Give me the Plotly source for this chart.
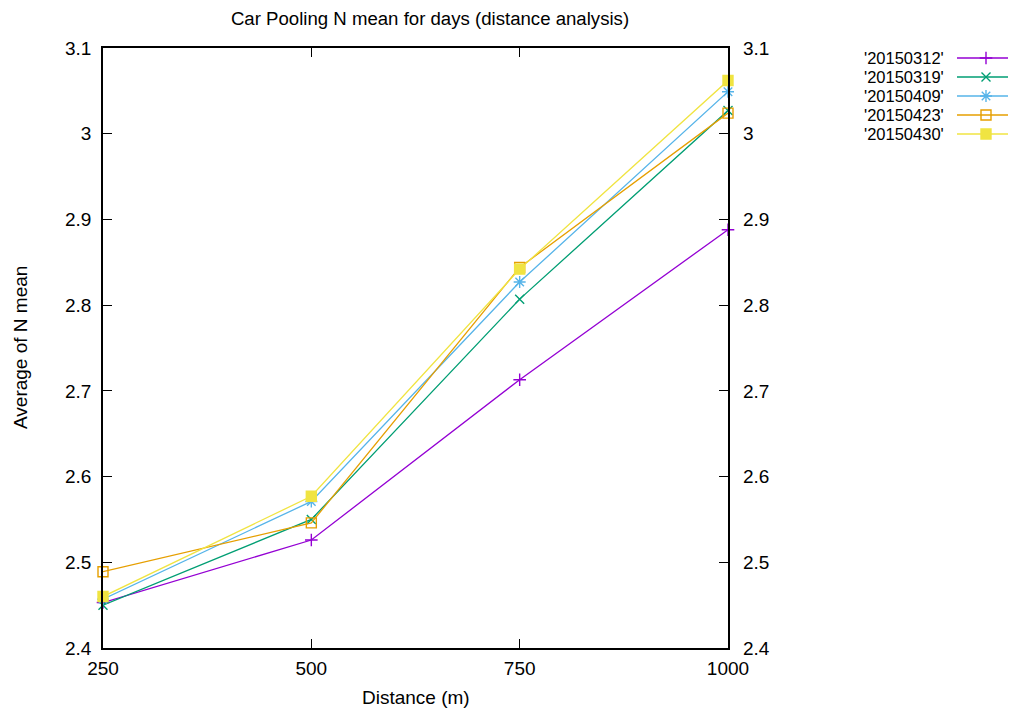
import plotly.graph_objects as go

distance = [250, 500, 750, 1000]
days = ["'20150312'", "'20150319'", "'20150409'", "'20150423'", "'20150430'"]
n_mean_20150312 = [2.453, 2.526, 2.713, 2.888]
n_mean_20150319 = [2.450, 2.550, 2.807, 3.027]
n_mean_20150409 = [2.457, 2.571, 2.827, 3.049]
n_mean_20150423 = [2.489, 2.546, 2.844, 3.024]
n_mean_20150430 = [2.460, 2.577, 2.842, 3.062]
y_tickvals = [2.4, 2.5, 2.6, 2.7, 2.8, 2.9, 3.0, 3.1]
y_ticktext = ["2.4", "2.5", "2.6", "2.7", "2.8", "2.9", "3", "3.1"]
x_tickvals = [250, 500, 750, 1000]

series = [n_mean_20150312, n_mean_20150319, n_mean_20150409, n_mean_20150423, n_mean_20150430]
colors = ["#9400d3", "#009e73", "#56b4e9", "#e69f00", "#f0e442"]
symbols = ["cross-thin-open", "x-thin-open", "asterisk-open", "square-open", "square"]
msizes = [9, 9, 10, 10, 10]

# page has an 8px body margin: the figure is placed at (8, 8) in the window
OFF = 8
WIN_W, WIN_H = 1016, 711
W, H = WIN_W - OFF, WIN_H - OFF


def px(x):
    return (x - OFF) / W


def py(y):
    return (H - (y - OFF)) / H


L, R, T, B = 103, 728, 48, 648
FONT = "Liberation Sans, Arial, sans-serif"
FS = 19
LFS = 16.5

fig = go.Figure()
for name, vals, c, s, ms in zip(days, series, colors, symbols, msizes):
    fig.add_trace(go.Scatter(
        x=distance, y=vals, name=name, mode="lines+markers",
        line=dict(color=c, width=1.3),
        marker=dict(symbol=s, size=ms, color=c, line=dict(color=c, width=1.4)),
        cliponaxis=False, showlegend=False,
    ))

# dummy trace for the right-hand y axis labels
fig.add_trace(go.Scatter(x=[None], y=[None], yaxis="y2", showlegend=False, hoverinfo="skip"))

# custom legend (gnuplot style: text then line sample)
lx0, lx1 = 950, 1016
row0, rowstep = 58, 19
for i, (name, c, s, ms) in enumerate(zip(days, colors, symbols, msizes)):
    fig.add_trace(go.Scatter(
        x=[(957 - lx0) / (lx1 - lx0), (1015 - lx0) / (lx1 - lx0)], y=[i + 1, i + 1],
        mode="lines", line=dict(color=c, width=1.3),
        xaxis="x3", yaxis="y3", showlegend=False, hoverinfo="skip", cliponaxis=False,
    ))
    fig.add_trace(go.Scatter(
        x=[(986 - lx0) / (lx1 - lx0)], y=[i + 1], mode="markers",
        marker=dict(symbol=s, size=ms, color=c, line=dict(color=c, width=1.4)),
        xaxis="x3", yaxis="y3", showlegend=False, hoverinfo="skip", cliponaxis=False,
    ))
    fig.add_annotation(
        text=name, xref="paper", x=px(945), xanchor="right",
        yref="y3", y=i + 1, yanchor="middle", showarrow=False,
        font=dict(family=FONT, size=LFS, color="black"),
        borderpad=0,
    )

axis_common = dict(
    showgrid=False, zeroline=False, showline=True, linecolor="black", linewidth=1.5,
    ticks="inside", ticklen=9, tickwidth=1, tickcolor="black", mirror="ticks",
    tickfont=dict(family=FONT, size=FS, color="black"), automargin=False,
)

fig.update_layout(
    width=W, height=H,
    margin=dict(l=0, r=0, t=0, b=0, pad=0, autoexpand=False),
    paper_bgcolor="white", plot_bgcolor="white",
    showlegend=False,
    title=dict(text="Car Pooling N mean for days (distance analysis)",
               xref="paper", yref="container",
               x=px(430), xanchor="center", y=py(18), yanchor="middle",
               automargin=False,
               font=dict(family=FONT, size=FS * 0.98, color="black")),
    xaxis=dict(domain=[px(L), px(R)], range=[250, 1000], tickvals=x_tickvals,
               ticklabelstandoff=2, **axis_common),
    yaxis=dict(domain=[py(B), py(T)], range=[2.4, 3.1],
               tickvals=y_tickvals, ticktext=y_ticktext, ticklabelstandoff=6, **axis_common),
    yaxis2=dict(overlaying="y", side="right", range=[2.4, 3.1], tickvals=y_tickvals,
                ticktext=y_ticktext, showgrid=False, zeroline=False, showline=False,
                ticks="", ticklabelstandoff=14, automargin=False,
                tickfont=dict(family=FONT, size=FS, color="black")),
    xaxis3=dict(domain=[px(lx0), px(lx1)], range=[0, 1], visible=False, fixedrange=True,
                automargin=False, anchor="y3"),
    yaxis3=dict(domain=[py(row0 - rowstep / 2 + 5 * rowstep), py(row0 - rowstep / 2)],
                range=[5.5, 0.5], visible=False, fixedrange=True, anchor="x3", automargin=False),
)

fig.add_annotation(text="Distance (m)", xref="paper", yref="paper",
                   x=px((L + R) / 2), y=py(697), xanchor="center", yanchor="middle",
                   showarrow=False, font=dict(family=FONT, size=FS, color="black"))
fig.add_annotation(text="Average of N mean", xref="paper", yref="paper",
                   x=px(20), y=py((T + B) / 2), xanchor="center", yanchor="middle",
                   textangle=-90, showarrow=False, font=dict(family=FONT, size=FS, color="black"))

fig.write_html("out.html")
